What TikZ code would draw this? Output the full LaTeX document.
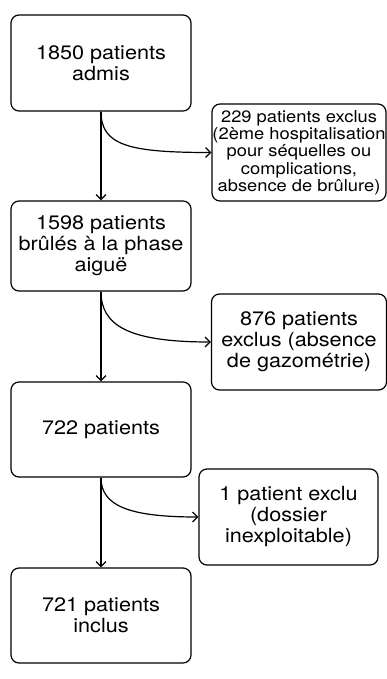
\documentclass[tikz,border=0pt]{standalone}
\usepackage{fontspec}
\setmainfont[FakeStretch=1.11]{TeX Gyre Heros}
\usetikzlibrary{arrows.meta,calc}
\begin{document}
\begin{tikzpicture}[x=1pt,y=-1pt,
  box/.style={draw, line width=1.2pt, rounded corners=8pt, align=center, inner sep=0pt,
    font=\fontsize{19.5}{21}\selectfont},
  small/.style={font=\fontsize{16.5}{17.3}\selectfont},
  conn/.style={line width=1.2pt, -{Straight Barb[length=5pt,width=10pt]}}]
\useasboundingbox (0,0) rectangle (387,679);
\node[box, minimum width=180pt, minimum height=96pt] (b1) at (101,63) {1850 patients\\admis};
\node[box, minimum width=180pt, minimum height=90pt] (b2) at (101,246) {1598 patients\\brûlés à la phase\\aiguë};
\node[box, minimum width=180pt, minimum height=95pt] (b3) at (101,429.5) {722 patients};
\node[box, minimum width=180pt, minimum height=95pt] (b4) at (101,615.5) {721 patients\\inclus};
\node[box, small, minimum width=174pt, minimum height=97pt] (s1) at (299,152.5) {229 patients exclus\\(2ème hospitalisation\\pour séquelles ou\\complications,\\absence de brûlure)};
\node[box, minimum width=175pt, minimum height=96pt] (s2) at (299,342) {876 patients\\exclus (absence\\de gazométrie)};
\node[box, minimum width=179pt, minimum height=96pt] (s3) at (288.5,517) {1 patient exclu\\(dossier\\inexploitable)};
\draw[conn] (b1.south) -- (b2.north);
\draw[conn] (b2.south) -- (b3.north);
\draw[conn] (b3.south) -- (b4.north);
\draw[conn] (b1.south) .. controls ($(b1.south)+(0,34)$) and ($(s1.west)+(-82,0)$) .. (s1.west);
\draw[conn] (b2.south) .. controls ($(b2.south)+(0,34)$) and ($(s2.west)+(-82,0)$) .. (s2.west);
\draw[conn] (b3.south) .. controls ($(b3.south)+(0,28)$) and ($(s3.west)+(-70,0)$) .. (s3.west);
\end{tikzpicture}
\end{document}
